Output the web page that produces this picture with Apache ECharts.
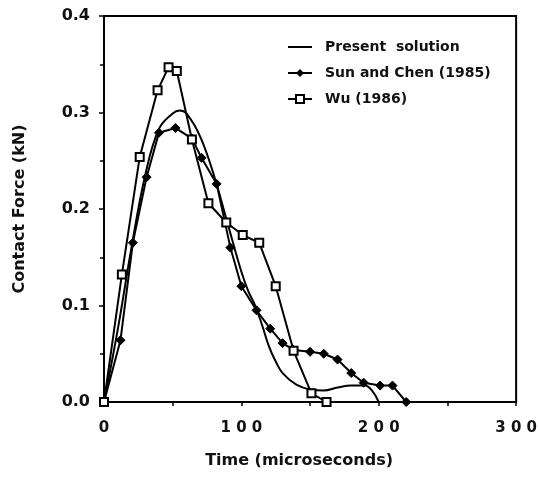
<!DOCTYPE html>
<html>
<head>
<meta charset="utf-8">
<script src="https://cdn.jsdelivr.net/npm/echarts@6/dist/echarts.min.js"></script>
<style>html,body{margin:0;padding:0;background:#fff;}#c{width:540px;height:481px;}</style>
</head>
<body>
<div id="c"></div>
<script>
const seriesNames = ['Present  solution', 'Sun and Chen (1985)', 'Wu (1986)'];
const presentT = [0,10,20,30,40,50,55,60,70,80,90,100,105,110,115,120,125,130,140,150,160,170,180,190,195,200];
const presentF = [0,0.075,0.16,0.235,0.283,0.299,0.302,0.299,0.275,0.235,0.185,0.135,0.115,0.1,0.08,0.058,0.042,0.03,0.018,0.013,0.012,0.015,0.017,0.017,0.012,0];
const sunT = [0,12,21,31,40,52,64,71,82,92,100,111,121,130,138,150,160,170,180,189,201,210,220];
const sunF = [0,0.064,0.165,0.233,0.279,0.284,0.273,0.253,0.226,0.160,0.12,0.095,0.076,0.061,0.054,0.052,0.05,0.044,0.03,0.02,0.017,0.017,0];
const wuT = [0,13,26,39,47,53,64,76,89,101,113,125,138,151,162];
const wuF = [0,0.132,0.254,0.323,0.347,0.343,0.272,0.206,0.186,0.173,0.165,0.12,0.053,0.009,0];
const xTicks = [0,100,200,300];
const yTicks = [0.0,0.1,0.2,0.3,0.4];

const zip = (a,b) => a.map((v,i)=>[v,b[i]]);
const chart = echarts.init(document.getElementById('c'));
const font = '"DejaVu Sans", Arial, sans-serif';
chart.setOption({
  backgroundColor:'#fff',
  animation:false,
  grid:{left:104,right:22,top:16,bottom:79,show:true,borderColor:'#000',borderWidth:2},
  legend:{
    orient:'vertical', left:282, top:35, itemGap:12, itemWidth:24, itemHeight:10,
    textStyle:{fontFamily:font,fontWeight:'bold',fontSize:14,color:'#111',padding:[0,0,0,8]},
    data:[
      {name:seriesNames[0], icon:'path://M0,0L12,0L12,1L0,1Z'},
      {name:seriesNames[1]},
      {name:seriesNames[2]}
    ]
  },
  xAxis:{
    type:'value',min:0,max:300,interval:100,
    name:'Time (microseconds)',nameLocation:'middle',nameGap:51,
    nameTextStyle:{fontFamily:font,fontWeight:'bold',fontSize:16,color:'#111',padding:[0,22,0,0]},
    axisLine:{lineStyle:{color:'#000',width:2}},
    axisTick:{show:true,length:4,lineStyle:{color:'#000',width:1.5}},
    minorTick:{show:true,splitNumber:2,length:4,lineStyle:{color:'#000',width:1.5}},
    splitLine:{show:false},
    axisLabel:{margin:19,fontFamily:font,fontWeight:'bold',fontSize:15,color:'#111',
      formatter:v=>String(v).split('').join(' ')}
  },
  yAxis:{
    type:'value',min:0,max:0.4,interval:0.1,
    name:'Contact Force (kN)',nameLocation:'middle',nameGap:76,
    nameTextStyle:{fontFamily:font,fontWeight:'bold',fontSize:16,color:'#111'},
    axisLine:{lineStyle:{color:'#000',width:2}},
    axisTick:{show:true,length:5,lineStyle:{color:'#000',width:1.5}},
    minorTick:{show:true,splitNumber:2,length:4,lineStyle:{color:'#000',width:1.5}},
    splitLine:{show:false},
    axisLabel:{margin:14,fontFamily:font,fontWeight:'bold',fontSize:16,color:'#111',
      formatter:v=>v.toFixed(1)}
  },
  series:[
    {name:seriesNames[0],type:'line',data:zip(presentT,presentF),smooth:0.4,showSymbol:false,symbol:'none',
      lineStyle:{color:'#000',width:2},itemStyle:{color:'#000'}},
    {name:seriesNames[1],type:'line',data:zip(sunT,sunF),symbol:'diamond',symbolSize:9,
      lineStyle:{color:'#000',width:2},itemStyle:{color:'#000',borderColor:'#000'}},
    {name:seriesNames[2],type:'line',data:zip(wuT,wuF),symbol:'rect',symbolSize:8,
      lineStyle:{color:'#000',width:2},itemStyle:{color:'#fff',borderColor:'#000',borderWidth:2}}
  ]
});
</script>
</body>
</html>
